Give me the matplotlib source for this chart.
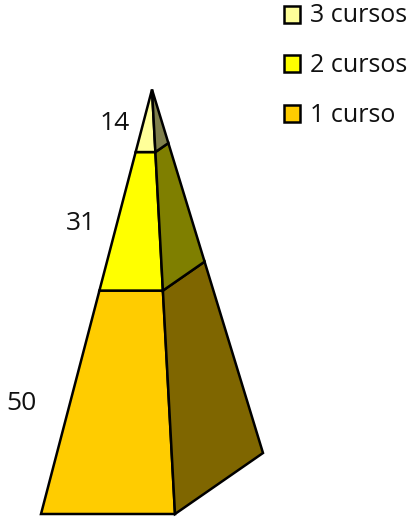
import numpy as np
import matplotlib
matplotlib.use('Agg')
import matplotlib.pyplot as plt
from matplotlib.patches import Polygon, Rectangle

categories = ['1 curso', '2 cursos', '3 cursos']
values = [50, 31, 14]
front_colors = ['#FFCC00', '#FFFF00', '#FFFF99']
side_colors = ['#7F6600', '#7F7F00', '#7F7F4C']

# pyramid corners in image pixels
apex = np.array([152.0, 89.5])
base_left = np.array([41.0, 514.0])
base_mid = np.array([175.0, 514.0])
base_right = np.array([263.0, 453.0])

plt.rcParams['font.family'] = ['Open Sans', 'DejaVu Sans']

fig = plt.figure(figsize=(4.12, 5.17), dpi=100)
ax = fig.add_axes([0, 0, 1, 1])
ax.set_xlim(0, 412)
ax.set_ylim(517, 0)
ax.axis('off')


def edge(corner, h):
    # point on the edge corner->apex at height fraction h
    return corner + (apex - corner) * h


total = sum(values)
cum = np.concatenate([[0], np.cumsum(values)]) / total

for i in range(len(values)):
    lo, hi = cum[i], cum[i + 1]
    front = [edge(base_left, lo), edge(base_mid, lo), edge(base_mid, hi), edge(base_left, hi)]
    side = [edge(base_mid, lo), edge(base_right, lo), edge(base_right, hi), edge(base_mid, hi)]
    ax.add_patch(Polygon(front, closed=True, facecolor=front_colors[i], edgecolor='black', lw=1.8, joinstyle='miter'))
    ax.add_patch(Polygon(side, closed=True, facecolor=side_colors[i], edgecolor='black', lw=1.8, joinstyle='miter'))

# value labels
label_x = [21, 81, 115]
label_y = [404, 224, 124]
for i in range(len(values)):
    ax.text(label_x[i], label_y[i], str(values[i]), fontsize=19, color='#111111', ha='center', va='center')

# legend, top entry is the last category
legend_y = [14, 63, 113]
for i, (cat, col) in enumerate(zip(categories[::-1], front_colors[::-1])):
    ax.add_patch(Rectangle((284, legend_y[i] - 8.5), 16, 17, facecolor=col, edgecolor='black', lw=1.8))
    ax.text(310, legend_y[i] + 2, cat, fontsize=18, color='#111111', ha='left', va='center')

fig.savefig('out.png', dpi=100)
